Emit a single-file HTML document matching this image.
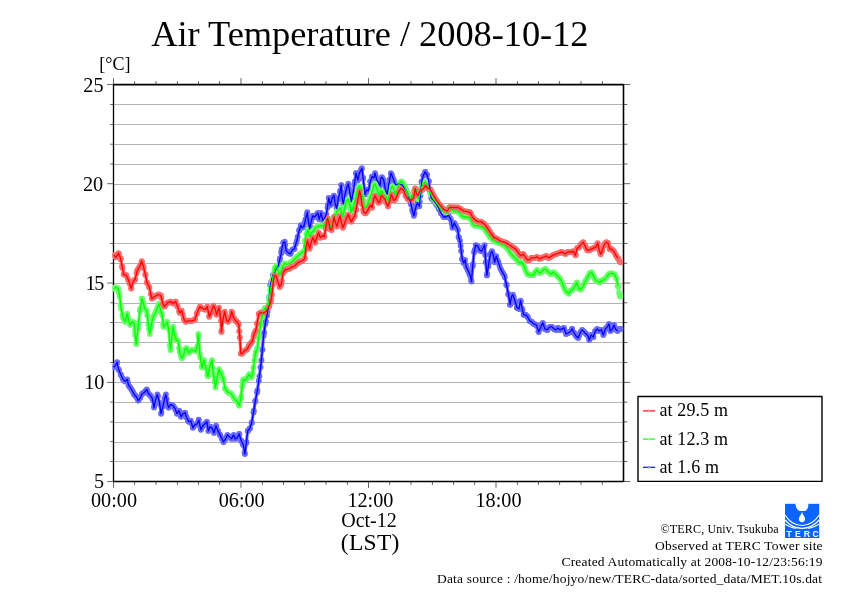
<!DOCTYPE html>
<html><head><meta charset="utf-8"><title>Air Temperature</title>
<style>
html,body{margin:0;padding:0;background:#fff;}
body{width:842px;height:595px;overflow:hidden;position:relative;font-family:"Liberation Serif",serif;}
svg{position:absolute;left:0;top:0;display:block;will-change:transform;opacity:0.9999}
text{font-family:"Liberation Serif",serif;fill:#000}
.lg text{font-size:18px}
.ft text{font-size:13.5px}
.lgo text{font-family:"Liberation Sans",sans-serif;font-weight:bold;font-size:8.6px;fill:#fff}
</style></head><body>
<svg width="842" height="595" viewBox="0 0 842 595">
<rect width="842" height="595" fill="#fff"/>

<text x="151.3" y="46" font-size="36.4" textLength="437.2" lengthAdjust="spacing">Air Temperature / 2008-10-12</text>
<text x="99.3" y="70" font-size="18">[°C]</text>
<g fill="#b4b4b4">
<rect x="113.5" y="104" width="510.0" height="1"/>
<rect x="113.5" y="124" width="510.0" height="1"/>
<rect x="113.5" y="144" width="510.0" height="1"/>
<rect x="113.5" y="164" width="510.0" height="1"/>
<rect x="113.5" y="184" width="510.0" height="1"/>
<rect x="113.5" y="203" width="510.0" height="1"/>
<rect x="113.5" y="223" width="510.0" height="1"/>
<rect x="113.5" y="243" width="510.0" height="1"/>
<rect x="113.5" y="263" width="510.0" height="1"/>
<rect x="113.5" y="283" width="510.0" height="1"/>
<rect x="113.5" y="303" width="510.0" height="1"/>
<rect x="113.5" y="322" width="510.0" height="1"/>
<rect x="113.5" y="342" width="510.0" height="1"/>
<rect x="113.5" y="362" width="510.0" height="1"/>
<rect x="113.5" y="382" width="510.0" height="1"/>
<rect x="113.5" y="402" width="510.0" height="1"/>
<rect x="113.5" y="422" width="510.0" height="1"/>
<rect x="113.5" y="442" width="510.0" height="1"/>
<rect x="113.5" y="461" width="510.0" height="1"/>
</g>
<g stroke="#000" fill="none">
<line x1="113.5" x2="113.5" y1="84.1" y2="481.9" stroke-width="1.3"/>
<line x1="623.5" x2="623.5" y1="84.1" y2="481.9" stroke-width="1.6"/>
<line x1="113.5" x2="623.5" y1="84.6" y2="84.6" stroke-width="1.6"/>
<line x1="113.5" x2="623.5" y1="481.4" y2="481.4" stroke-width="1.5"/>
</g><g fill="#000">
<rect x="113.20" y="481.4" width="0.6" height="6.5"/>
<rect x="113.20" y="78.1" width="0.6" height="6.5"/>
<rect x="134.45" y="481.4" width="0.6" height="3.5"/>
<rect x="134.45" y="81.1" width="0.6" height="3.5"/>
<rect x="155.70" y="481.4" width="0.6" height="3.5"/>
<rect x="155.70" y="81.1" width="0.6" height="3.5"/>
<rect x="176.95" y="481.4" width="0.6" height="3.5"/>
<rect x="176.95" y="81.1" width="0.6" height="3.5"/>
<rect x="198.20" y="481.4" width="0.6" height="3.5"/>
<rect x="198.20" y="81.1" width="0.6" height="3.5"/>
<rect x="219.45" y="481.4" width="0.6" height="3.5"/>
<rect x="219.45" y="81.1" width="0.6" height="3.5"/>
<rect x="240.70" y="481.4" width="0.6" height="6.5"/>
<rect x="240.70" y="78.1" width="0.6" height="6.5"/>
<rect x="261.95" y="481.4" width="0.6" height="3.5"/>
<rect x="261.95" y="81.1" width="0.6" height="3.5"/>
<rect x="283.20" y="481.4" width="0.6" height="3.5"/>
<rect x="283.20" y="81.1" width="0.6" height="3.5"/>
<rect x="304.45" y="481.4" width="0.6" height="3.5"/>
<rect x="304.45" y="81.1" width="0.6" height="3.5"/>
<rect x="325.70" y="481.4" width="0.6" height="3.5"/>
<rect x="325.70" y="81.1" width="0.6" height="3.5"/>
<rect x="346.95" y="481.4" width="0.6" height="3.5"/>
<rect x="346.95" y="81.1" width="0.6" height="3.5"/>
<rect x="368.20" y="481.4" width="0.6" height="6.5"/>
<rect x="368.20" y="78.1" width="0.6" height="6.5"/>
<rect x="389.45" y="481.4" width="0.6" height="3.5"/>
<rect x="389.45" y="81.1" width="0.6" height="3.5"/>
<rect x="410.70" y="481.4" width="0.6" height="3.5"/>
<rect x="410.70" y="81.1" width="0.6" height="3.5"/>
<rect x="431.95" y="481.4" width="0.6" height="3.5"/>
<rect x="431.95" y="81.1" width="0.6" height="3.5"/>
<rect x="453.20" y="481.4" width="0.6" height="3.5"/>
<rect x="453.20" y="81.1" width="0.6" height="3.5"/>
<rect x="474.45" y="481.4" width="0.6" height="3.5"/>
<rect x="474.45" y="81.1" width="0.6" height="3.5"/>
<rect x="495.70" y="481.4" width="0.6" height="6.5"/>
<rect x="495.70" y="78.1" width="0.6" height="6.5"/>
<rect x="516.95" y="481.4" width="0.6" height="3.5"/>
<rect x="516.95" y="81.1" width="0.6" height="3.5"/>
<rect x="538.20" y="481.4" width="0.6" height="3.5"/>
<rect x="538.20" y="81.1" width="0.6" height="3.5"/>
<rect x="559.45" y="481.4" width="0.6" height="3.5"/>
<rect x="559.45" y="81.1" width="0.6" height="3.5"/>
<rect x="580.70" y="481.4" width="0.6" height="3.5"/>
<rect x="580.70" y="81.1" width="0.6" height="3.5"/>
<rect x="601.95" y="481.4" width="0.6" height="3.5"/>
<rect x="601.95" y="81.1" width="0.6" height="3.5"/>
<rect x="107.2" y="84.30" width="6.3" height="0.6"/>
<rect x="623.5" y="84.30" width="6.8" height="0.6"/>
<rect x="110.2" y="104.14" width="3.3" height="0.6"/>
<rect x="623.5" y="104.14" width="3.8" height="0.6"/>
<rect x="110.2" y="123.98" width="3.3" height="0.6"/>
<rect x="623.5" y="123.98" width="3.8" height="0.6"/>
<rect x="110.2" y="143.83" width="3.3" height="0.6"/>
<rect x="623.5" y="143.83" width="3.8" height="0.6"/>
<rect x="110.2" y="163.67" width="3.3" height="0.6"/>
<rect x="623.5" y="163.67" width="3.8" height="0.6"/>
<rect x="107.2" y="183.51" width="6.3" height="0.6"/>
<rect x="623.5" y="183.51" width="6.8" height="0.6"/>
<rect x="110.2" y="203.36" width="3.3" height="0.6"/>
<rect x="623.5" y="203.36" width="3.8" height="0.6"/>
<rect x="110.2" y="223.20" width="3.3" height="0.6"/>
<rect x="623.5" y="223.20" width="3.8" height="0.6"/>
<rect x="110.2" y="243.04" width="3.3" height="0.6"/>
<rect x="623.5" y="243.04" width="3.8" height="0.6"/>
<rect x="110.2" y="262.88" width="3.3" height="0.6"/>
<rect x="623.5" y="262.88" width="3.8" height="0.6"/>
<rect x="107.2" y="282.72" width="6.3" height="0.6"/>
<rect x="623.5" y="282.72" width="6.8" height="0.6"/>
<rect x="110.2" y="302.57" width="3.3" height="0.6"/>
<rect x="623.5" y="302.57" width="3.8" height="0.6"/>
<rect x="110.2" y="322.41" width="3.3" height="0.6"/>
<rect x="623.5" y="322.41" width="3.8" height="0.6"/>
<rect x="110.2" y="342.25" width="3.3" height="0.6"/>
<rect x="623.5" y="342.25" width="3.8" height="0.6"/>
<rect x="110.2" y="362.09" width="3.3" height="0.6"/>
<rect x="623.5" y="362.09" width="3.8" height="0.6"/>
<rect x="107.2" y="381.94" width="6.3" height="0.6"/>
<rect x="623.5" y="381.94" width="6.8" height="0.6"/>
<rect x="110.2" y="401.78" width="3.3" height="0.6"/>
<rect x="623.5" y="401.78" width="3.8" height="0.6"/>
<rect x="110.2" y="421.62" width="3.3" height="0.6"/>
<rect x="623.5" y="421.62" width="3.8" height="0.6"/>
<rect x="110.2" y="441.46" width="3.3" height="0.6"/>
<rect x="623.5" y="441.46" width="3.8" height="0.6"/>
<rect x="110.2" y="461.31" width="3.3" height="0.6"/>
<rect x="623.5" y="461.31" width="3.8" height="0.6"/>
<rect x="107.2" y="481.15" width="6.3" height="0.6"/>
<rect x="623.5" y="481.15" width="6.8" height="0.6"/>
</g>
<clipPath id="cp"><rect x="112.7" y="84.6" width="510.8" height="396.9"/></clipPath><g clip-path="url(#cp)">
<marker id="mb" markerWidth="8" markerHeight="8" refX="4" refY="4" markerUnits="userSpaceOnUse"><circle cx="4" cy="4" r="2.95" fill="#6a6aff"/></marker>
<marker id="mg" markerWidth="8" markerHeight="8" refX="4" refY="4" markerUnits="userSpaceOnUse"><circle cx="4" cy="4" r="2.95" fill="#6aff6a"/></marker>
<marker id="mr" markerWidth="8" markerHeight="8" refX="4" refY="4" markerUnits="userSpaceOnUse"><circle cx="4" cy="4" r="2.95" fill="#ff6a6a"/></marker>
<polyline points="113.6,367.3 113.6,367.3 115.4,365.5 115.7,365.2 117.1,362.2 117.2,362.7 118.5,369.3 118.9,370.3 120.7,374.4 121.1,375.3 122.5,378.1 123.1,379.4 124.3,380.5 125.1,381.4 126.0,380.5 127.2,379.4 127.8,382.1 128.6,385.4 129.6,386.7 130.2,387.4 131.3,389.2 132.2,390.5 133.1,392.3 134.2,394.5 134.9,395.2 136.2,396.5 136.6,397.3 138.3,400.6 138.4,400.3 140.2,397.7 140.3,397.5 142.0,394.2 142.3,393.5 143.7,392.8 144.3,392.5 145.5,391.0 146.7,389.5 147.3,390.8 148.4,393.5 149.0,394.2 150.4,395.5 150.8,396.2 152.4,398.6 152.6,399.5 154.0,407.6 154.3,406.0 155.4,400.6 156.1,398.5 157.4,394.5 157.9,396.3 159.5,402.6 159.7,403.9 161.1,413.7 161.4,412.4 162.9,406.6 163.2,405.1 164.5,398.6 165.0,397.3 165.9,394.5 166.7,399.1 167.5,403.6 168.5,407.4 168.6,407.6 170.3,405.1 170.6,404.6 172.0,405.2 173.0,405.6 173.8,406.8 175.0,408.6 175.6,410.1 177.0,413.7 177.4,413.2 179.0,410.7 179.1,410.9 180.9,416.2 181.1,416.7 182.7,414.3 183.1,413.7 184.4,413.0 185.1,412.7 186.2,416.1 186.7,417.7 188.0,420.2 188.7,421.8 189.7,421.3 190.8,420.8 191.5,423.4 192.8,427.8 193.3,427.1 194.8,424.8 195.1,424.7 196.8,424.0 197.2,423.8 198.6,420.4 198.8,419.8 200.4,427.4 200.9,429.8 202.1,427.3 202.9,425.8 203.9,424.8 204.9,423.8 205.7,423.0 206.9,421.8 207.4,425.2 208.3,430.9 209.2,428.6 209.9,426.8 211.0,427.3 212.0,427.8 212.8,429.8 214.0,432.9 214.5,431.0 216.0,425.8 216.3,426.5 218.0,430.9 218.1,431.0 219.8,434.5 220.0,434.9 221.6,438.0 222.1,438.9 223.4,441.8 223.5,442.0 225.1,439.4 225.5,438.9 226.9,436.1 227.5,434.9 228.7,436.1 229.5,436.9 230.5,437.8 231.5,438.9 232.2,437.6 233.6,434.9 234.0,436.0 235.2,438.9 235.8,438.6 237.2,437.9 237.5,437.2 239.2,433.9 239.3,434.2 241.1,440.4 241.2,441.0 242.8,444.2 243.3,445.0 244.6,452.6 244.9,454.1 246.3,443.0 246.4,442.1 247.7,430.9 248.2,430.4 249.7,428.8 249.9,428.2 251.7,422.9 251.7,422.8 253.5,412.4 253.8,410.7 255.2,401.4 255.4,400.6 257.0,392.4 257.4,390.5 258.8,380.8 259.4,376.3 260.5,367.2 261.4,360.2 262.3,349.8 262.3,349.4 263.6,335.7 264.1,332.4 265.3,323.9 265.9,321.1 267.0,315.5 267.6,311.6 268.7,305.5 269.4,296.6 270.3,285.3 271.2,282.0 272.9,275.2 272.9,275.1 274.7,271.5 275.4,270.2 276.5,268.7 277.9,266.8 278.2,265.4 279.6,260.1 280.0,258.3 281.3,253.4 281.3,250.9 281.8,248.9 283.3,242.8 283.6,242.6 284.7,241.8 285.3,245.1 286.3,250.9 287.1,251.6 288.4,252.9 288.9,253.1 290.4,253.9 290.6,253.4 292.4,249.8 292.4,249.8 294.2,249.0 294.4,248.8 295.9,243.7 296.8,240.8 297.7,236.8 299.1,230.7 299.5,229.4 300.8,225.3 301.3,226.3 302.0,227.7 303.0,227.0 303.8,226.5 304.8,222.3 305.5,219.4 306.6,215.3 307.3,212.3 308.3,220.4 308.5,221.8 309.7,228.9 310.1,226.8 311.1,221.8 311.9,218.8 312.7,215.8 313.6,216.5 314.4,217.0 315.4,216.0 315.6,215.8 317.2,213.7 317.8,212.9 319.0,218.3 319.2,219.4 320.7,213.8 321.0,212.9 322.5,219.4 322.8,220.6 324.3,218.6 324.5,218.2 326.0,215.2 326.3,214.6 327.5,207.5 327.8,205.1 328.7,198.0 329.6,201.5 330.5,205.1 331.3,201.7 332.3,198.0 333.1,196.9 334.0,195.6 334.9,201.6 335.2,203.9 336.7,208.3 336.8,208.7 338.2,199.2 338.4,198.3 340.0,192.1 340.2,190.8 341.2,184.9 342.0,194.5 342.4,199.2 343.5,203.9 343.7,202.6 344.7,195.6 345.5,192.5 346.5,188.5 347.3,186.5 348.3,183.8 349.0,188.3 349.5,190.9 350.8,198.9 351.3,201.6 352.6,195.4 353.0,193.3 354.4,184.5 354.8,181.4 356.0,173.1 356.1,173.5 357.8,180.2 357.9,179.7 359.3,173.1 359.7,172.5 360.8,170.7 361.4,169.3 361.9,168.3 363.1,177.8 363.2,178.5 364.9,194.4 365.0,194.3 366.7,189.7 366.7,189.7 368.5,190.9 368.5,190.7 370.3,181.4 370.3,181.3 372.0,176.6 372.1,176.6 373.8,177.8 373.8,177.8 375.0,173.1 375.6,175.4 376.8,180.2 377.4,181.0 378.6,182.6 379.1,183.7 380.0,185.5 380.7,179.0 380.9,178.7 381.9,177.2 382.7,178.6 383.7,180.2 384.4,184.4 385.4,189.7 386.2,191.8 387.2,194.4 388.0,189.9 389.0,183.8 389.8,179.2 390.8,173.1 391.5,174.5 392.0,175.4 393.3,179.0 393.8,180.2 395.1,183.7 395.5,184.9 396.8,184.4 398.5,183.8 398.6,183.8 400.4,184.4 402.1,184.9 402.1,185.0 403.9,187.4 405.6,189.7 405.7,189.8 407.5,193.3 408.0,194.4 409.2,198.1 410.4,201.6 411.0,204.4 412.2,209.9 412.8,211.9 413.9,215.8 414.5,213.1 415.7,207.5 416.3,206.0 417.5,202.8 418.1,203.9 419.3,206.3 419.8,201.3 420.5,195.6 421.6,182.0 421.7,181.4 423.4,175.6 423.4,175.4 425.2,172.0 425.2,171.9 426.9,174.7 427.0,174.8 428.7,181.0 428.8,181.4 430.0,189.7 430.5,193.1 431.2,198.0 432.2,199.1 434.0,200.8 434.1,201.0 435.8,203.4 436.5,204.5 437.5,206.3 438.9,208.7 439.3,209.6 441.1,213.1 441.3,213.4 442.9,215.8 443.6,217.0 444.6,217.0 446.0,217.0 446.4,216.7 448.2,215.4 448.4,215.2 449.9,217.9 450.8,219.4 451.7,223.8 452.5,227.7 453.5,225.2 454.3,222.9 455.2,224.8 456.1,226.5 457.0,228.3 457.9,230.0 458.6,236.7 458.8,237.4 460.0,240.8 460.6,245.7 461.2,250.9 462.2,258.9 462.3,259.3 463.6,263.0 464.1,261.9 465.0,259.9 465.9,264.9 466.2,267.0 467.6,269.8 468.2,271.0 469.4,273.9 470.3,276.1 471.2,280.0 471.5,281.5 472.7,266.3 472.9,264.1 474.1,252.2 474.7,249.7 475.7,245.1 476.5,245.5 477.8,246.2 478.3,247.2 479.6,250.2 480.0,250.4 481.6,251.2 481.8,250.8 483.2,248.2 483.6,247.4 484.6,245.1 485.3,255.1 485.8,262.3 486.9,275.4 487.1,273.8 488.3,266.3 488.9,262.7 490.3,254.2 490.6,253.6 491.9,251.2 492.4,252.7 493.3,255.2 494.2,259.6 494.7,262.3 496.0,257.7 496.3,256.2 497.7,260.4 498.4,262.3 499.5,265.7 500.4,268.4 501.3,270.1 502.4,272.4 503.0,273.4 504.4,275.4 504.8,277.2 506.4,284.5 506.6,285.2 508.3,294.0 508.5,294.6 510.1,304.7 510.1,304.5 511.5,296.6 511.9,296.1 512.9,294.6 513.7,296.9 514.9,300.7 515.4,302.4 516.9,307.7 517.2,307.9 519.0,308.7 519.0,308.7 520.6,300.7 520.7,301.5 522.2,308.7 522.5,310.1 523.6,314.8 524.3,314.8 525.6,314.8 526.0,315.2 527.6,316.8 527.8,317.2 529.6,320.7 529.7,320.9 531.4,321.7 531.7,321.9 533.1,323.3 533.7,323.9 534.9,324.3 536.3,324.9 536.7,325.9 538.4,331.1 538.7,332.0 540.2,328.3 540.8,326.9 542.0,324.5 542.8,322.9 543.7,325.8 544.8,328.9 545.5,329.2 547.2,329.9 547.3,329.9 549.1,327.8 549.8,326.9 550.8,326.9 551.9,326.9 552.6,327.6 553.9,328.9 554.4,329.2 555.9,329.9 556.1,329.7 557.9,327.9 557.9,327.9 559.7,329.7 559.9,329.9 561.4,329.2 562.0,328.9 563.2,328.3 564.0,327.9 565.0,330.9 566.0,334.0 566.8,333.6 568.0,333.0 568.5,332.7 570.0,332.0 570.3,331.6 572.1,328.9 572.1,329.0 573.8,332.5 574.1,333.0 575.6,335.3 576.1,336.0 577.4,337.3 578.1,338.0 579.1,335.4 580.1,333.0 580.9,331.8 582.1,329.9 582.7,330.5 584.2,332.0 584.5,332.2 586.2,334.0 586.2,334.0 588.0,335.8 588.2,336.0 589.2,340.0 589.8,338.7 591.2,335.0 591.5,335.3 593.3,337.0 593.3,336.9 595.1,331.5 595.3,331.0 596.8,329.4 597.3,328.9 598.6,330.3 599.3,331.0 600.4,330.4 601.3,329.9 602.2,332.0 603.3,335.0 603.9,333.3 605.4,328.9 605.7,328.6 607.4,326.9 607.5,326.8 609.0,323.9 609.2,325.0 610.4,331.0 611.0,330.4 612.4,328.9 612.8,328.1 614.0,324.9 614.5,326.3 615.5,328.9 616.3,329.8 617.5,331.0 618.1,330.3 619.5,328.9 619.9,328.9 620.9,328.9" fill="none" stroke="none" marker-start="url(#mb)" marker-mid="url(#mb)" marker-end="url(#mb)"/>
<path d="M113.6,367.3 L115.7,365.2 L117.1,362.2 L118.5,369.3 L121.1,375.3 L123.1,379.4 L125.1,381.4 L127.2,379.4 L128.6,385.4 L130.2,387.4 L132.2,390.5 L134.2,394.5 L136.2,396.5 L138.3,400.6 L140.3,397.5 L142.3,393.5 L144.3,392.5 L146.7,389.5 L148.4,393.5 L150.4,395.5 L152.4,398.6 L154.0,407.6 L155.4,400.6 L157.4,394.5 L159.5,402.6 L161.1,413.7 L162.9,406.6 L164.5,398.6 L165.9,394.5 L167.5,403.6 L168.6,407.6 L170.6,404.6 L173.0,405.6 L175.0,408.6 L177.0,413.7 L179.0,410.7 L181.1,416.7 L183.1,413.7 L185.1,412.7 L186.7,417.7 L188.7,421.8 L190.8,420.8 L192.8,427.8 L194.8,424.8 L197.2,423.8 L198.8,419.8 L200.9,429.8 L202.9,425.8 L204.9,423.8 L206.9,421.8 L208.3,430.9 L209.9,426.8 L212.0,427.8 L214.0,432.9 L216.0,425.8 L218.0,430.9 L220.0,434.9 L222.1,438.9 L223.5,442.0 L225.5,438.9 L227.5,434.9 L229.5,436.9 L231.5,438.9 L233.6,434.9 L235.2,438.9 L237.2,437.9 L239.2,433.9 L241.2,441.0 L243.3,445.0 L244.9,454.1 L246.3,443.0 L247.7,430.9 L249.7,428.8 L251.7,422.8 L253.8,410.7 L255.4,400.6 L257.4,390.5 L259.4,376.3 L261.4,360.2 L262.3,349.8 L263.6,335.7 L265.3,323.9 L267.0,315.5 L268.7,305.5 L270.3,285.3 L272.9,275.2 L275.4,270.2 L277.9,266.8 L279.6,260.1 L281.3,253.4 L281.3,250.9 L283.3,242.8 L284.7,241.8 L286.3,250.9 L288.4,252.9 L290.4,253.9 L292.4,249.8 L294.4,248.8 L296.8,240.8 L299.1,230.7 L300.8,225.3 L302.0,227.7 L303.8,226.5 L305.5,219.4 L307.3,212.3 L308.5,221.8 L309.7,228.9 L311.1,221.8 L312.7,215.8 L314.4,217.0 L315.6,215.8 L317.8,212.9 L319.2,219.4 L321.0,212.9 L322.8,220.6 L324.5,218.2 L326.3,214.6 L327.5,207.5 L328.7,198.0 L330.5,205.1 L332.3,198.0 L334.0,195.6 L335.2,203.9 L336.8,208.7 L338.2,199.2 L340.0,192.1 L341.2,184.9 L342.4,199.2 L343.5,203.9 L344.7,195.6 L346.5,188.5 L348.3,183.8 L349.5,190.9 L351.3,201.6 L353.0,193.3 L354.8,181.4 L356.0,173.1 L357.8,180.2 L359.3,173.1 L360.8,170.7 L361.9,168.3 L363.1,177.8 L364.9,194.4 L366.7,189.7 L368.5,190.9 L370.3,181.4 L372.0,176.6 L373.8,177.8 L375.0,173.1 L376.8,180.2 L378.6,182.6 L380.0,185.5 L380.7,179.0 L381.9,177.2 L383.7,180.2 L385.4,189.7 L387.2,194.4 L389.0,183.8 L390.8,173.1 L392.0,175.4 L393.8,180.2 L395.5,184.9 L398.5,183.8 L402.1,184.9 L405.6,189.7 L408.0,194.4 L410.4,201.6 L412.2,209.9 L413.9,215.8 L415.7,207.5 L417.5,202.8 L419.3,206.3 L420.5,195.6 L421.7,181.4 L423.4,175.4 L425.2,171.9 L427.0,174.8 L428.8,181.4 L430.0,189.7 L431.2,198.0 L434.1,201.0 L436.5,204.5 L438.9,208.7 L441.3,213.4 L443.6,217.0 L446.0,217.0 L448.4,215.2 L450.8,219.4 L452.5,227.7 L454.3,222.9 L456.1,226.5 L457.9,230.0 L458.6,236.7 L460.0,240.8 L461.2,250.9 L462.2,258.9 L463.6,263.0 L465.0,259.9 L466.2,267.0 L468.2,271.0 L470.3,276.1 L471.5,281.5 L472.7,266.3 L474.1,252.2 L475.7,245.1 L477.8,246.2 L479.6,250.2 L481.6,251.2 L483.2,248.2 L484.6,245.1 L485.8,262.3 L486.9,275.4 L488.3,266.3 L490.3,254.2 L491.9,251.2 L493.3,255.2 L494.7,262.3 L496.3,256.2 L498.4,262.3 L500.4,268.4 L502.4,272.4 L504.4,275.4 L506.4,284.5 L508.5,294.6 L510.1,304.7 L511.5,296.6 L512.9,294.6 L514.9,300.7 L516.9,307.7 L519.0,308.7 L520.6,300.7 L522.2,308.7 L523.6,314.8 L525.6,314.8 L527.6,316.8 L529.7,320.9 L531.7,321.9 L533.7,323.9 L536.3,324.9 L538.7,332.0 L540.8,326.9 L542.8,322.9 L544.8,328.9 L547.2,329.9 L549.8,326.9 L551.9,326.9 L553.9,328.9 L555.9,329.9 L557.9,327.9 L559.9,329.9 L562.0,328.9 L564.0,327.9 L566.0,334.0 L568.0,333.0 L570.0,332.0 L572.1,328.9 L574.1,333.0 L576.1,336.0 L578.1,338.0 L580.1,333.0 L582.1,329.9 L584.2,332.0 L586.2,334.0 L588.2,336.0 L589.2,340.0 L591.2,335.0 L593.3,337.0 L595.3,331.0 L597.3,328.9 L599.3,331.0 L601.3,329.9 L603.3,335.0 L605.4,328.9 L607.4,326.9 L609.0,323.9 L610.4,331.0 L612.4,328.9 L614.0,324.9 L615.5,328.9 L617.5,331.0 L619.5,328.9 L620.9,328.9" fill="none" stroke="#6a6aff" stroke-width="3.2" stroke-linejoin="round" stroke-linecap="round"/>
<polyline points="113.6,288.5 113.6,288.5 115.4,287.7 116.1,287.4 117.2,288.0 118.1,288.5 118.9,292.8 119.7,296.5 120.7,305.3 121.1,308.6 122.5,314.9 123.1,317.7 124.3,320.0 125.1,321.8 126.0,318.2 127.2,313.7 127.8,316.9 128.6,320.8 129.6,323.2 130.2,324.8 131.3,323.1 132.2,321.8 133.1,322.2 134.2,322.8 134.9,330.5 135.2,334.9 136.2,344.0 136.6,340.3 137.9,328.8 138.4,323.9 139.9,310.7 140.2,308.8 141.9,298.6 142.0,298.7 143.3,302.6 143.7,304.3 144.7,308.6 145.5,309.4 146.7,310.7 147.3,315.2 148.4,324.8 149.0,329.1 149.8,333.9 150.8,328.1 151.4,324.8 152.6,318.9 152.8,317.7 154.3,314.8 155.4,312.7 156.1,311.0 157.4,307.6 157.9,306.5 159.1,303.6 159.7,306.1 160.5,309.7 161.4,312.6 162.1,314.7 163.2,324.2 163.5,326.8 165.0,325.4 165.5,324.8 166.7,322.5 167.1,321.8 168.5,328.6 168.6,328.8 170.0,345.0 170.3,347.6 170.6,350.0 172.0,334.9 172.0,334.4 173.0,326.8 173.8,330.9 174.6,334.9 175.6,337.9 176.2,339.9 177.4,340.5 178.2,341.0 179.1,347.9 179.7,352.1 180.9,355.8 181.7,358.2 182.7,356.7 183.7,355.1 184.4,352.0 185.1,349.1 186.2,348.4 186.7,348.1 188.0,351.2 188.7,353.1 189.7,351.6 190.8,350.1 191.5,350.1 193.2,350.1 193.3,350.1 195.1,350.8 195.8,351.1 196.8,347.9 197.4,346.1 198.4,333.9 198.6,336.3 199.8,354.1 200.4,357.5 201.9,367.3 202.1,366.3 203.9,360.2 203.9,360.3 205.7,367.4 205.9,368.3 207.4,374.4 207.9,376.3 209.2,369.9 209.9,366.2 211.0,363.1 212.0,360.2 212.8,368.1 213.4,374.3 214.5,381.8 215.4,387.4 216.3,382.4 217.0,378.4 218.1,373.6 219.0,369.3 219.8,370.9 221.0,373.3 221.6,374.7 223.1,378.4 223.4,379.9 225.1,388.5 225.1,388.5 226.9,390.9 228.1,392.5 228.7,392.7 230.5,393.3 231.1,393.5 232.2,395.3 234.0,398.3 234.2,398.6 235.8,400.1 237.2,401.6 237.5,402.3 239.2,405.6 239.3,405.2 240.8,398.6 241.1,396.5 242.2,386.4 242.8,382.2 243.3,379.4 244.6,380.1 245.3,380.4 246.4,378.7 247.3,377.4 248.2,376.1 249.3,374.3 249.9,375.2 251.3,377.4 251.7,376.3 252.7,373.3 253.5,367.5 254.4,360.2 255.2,355.2 255.8,352.1 257.0,349.0 257.4,348.1 258.6,337.4 258.8,336.0 260.3,325.6 260.5,324.2 261.9,317.2 262.3,315.7 263.6,310.5 264.1,309.6 265.0,308.0 265.9,309.9 266.1,310.5 267.6,307.5 267.8,307.1 269.0,300.4 269.4,297.4 270.3,290.3 271.2,286.2 272.0,281.9 272.9,277.3 273.7,273.5 274.7,269.1 275.0,267.6 276.2,266.0 276.5,266.6 277.9,270.2 278.2,271.2 279.6,275.2 280.0,274.3 281.3,271.8 281.8,270.0 282.9,266.0 283.6,265.0 284.6,263.4 285.3,263.7 287.1,264.3 287.1,264.3 288.9,263.7 289.7,263.4 290.6,262.8 292.2,261.8 292.4,261.5 294.2,259.8 294.7,259.2 295.9,258.0 297.2,256.7 297.7,256.2 299.5,254.5 299.7,254.2 301.3,253.2 302.3,252.5 303.0,252.0 304.8,250.8 304.8,250.5 304.9,240.8 306.5,233.7 306.6,233.6 307.9,229.7 308.3,231.4 309.6,236.7 310.1,235.6 311.6,232.7 311.9,232.4 313.6,230.7 313.6,230.6 315.4,228.0 315.6,227.7 317.2,226.9 318.0,226.5 319.0,226.1 320.7,225.4 321.0,225.3 322.5,226.1 323.3,226.5 324.3,225.3 325.1,224.1 326.0,221.4 326.3,220.6 327.8,218.6 328.1,218.2 329.3,221.8 329.6,223.2 330.5,227.7 331.3,226.0 332.3,224.1 333.1,221.8 334.0,219.4 334.9,216.8 335.2,215.8 336.7,212.0 337.0,211.1 338.4,209.7 338.8,209.3 340.2,208.4 340.6,208.1 341.8,213.4 342.0,214.1 342.9,217.0 343.7,212.8 344.7,207.5 345.5,204.4 346.5,200.4 347.3,199.9 348.3,199.2 349.0,202.2 350.1,206.3 350.8,210.0 351.3,212.3 352.6,208.7 353.0,207.5 354.4,203.1 354.8,201.6 356.1,196.4 356.6,194.4 357.8,188.5 357.9,188.3 359.3,186.1 359.7,186.4 360.8,187.3 361.4,191.4 361.9,194.4 363.2,200.3 363.7,202.8 364.9,207.5 365.0,207.5 366.7,207.5 366.7,207.4 368.5,201.6 368.5,201.5 370.3,196.8 370.3,196.8 372.0,192.1 372.1,192.0 373.8,185.5 373.8,185.5 375.0,183.8 375.6,185.3 376.8,188.5 377.4,190.4 378.6,194.4 379.1,194.9 380.0,195.6 380.7,190.9 380.9,191.0 382.5,192.1 382.7,192.5 384.3,195.6 384.4,195.8 386.2,197.6 386.6,198.0 387.8,201.6 388.0,200.8 389.6,193.3 389.8,192.7 391.4,187.3 391.5,187.2 392.6,186.1 393.3,188.1 394.3,190.9 395.1,192.8 396.1,195.6 396.8,192.3 397.9,187.3 398.6,185.5 399.7,182.6 400.4,182.1 401.5,181.4 402.1,182.3 403.3,183.8 403.9,185.1 405.0,187.3 405.7,189.0 406.8,192.1 407.5,193.3 408.6,195.6 409.2,196.6 411.0,199.2 411.0,199.2 412.8,196.8 412.8,196.8 413.9,190.9 414.5,190.1 415.7,188.5 416.3,190.4 417.5,194.4 418.1,196.7 418.7,199.2 419.8,193.4 419.9,193.3 421.6,187.5 421.7,187.3 423.4,183.9 423.4,183.8 425.2,182.0 425.2,182.0 426.9,184.8 427.0,184.9 428.7,188.3 428.8,188.5 430.5,193.0 430.6,193.3 432.2,196.6 432.9,198.0 434.0,199.4 435.8,201.8 436.5,202.8 437.5,204.1 439.3,206.5 440.1,207.5 441.1,208.5 442.9,210.3 443.6,211.1 444.6,211.4 446.4,212.0 447.2,212.3 448.2,209.7 449.0,207.5 449.9,207.5 450.8,207.5 451.7,208.9 453.1,211.1 453.5,211.1 455.2,211.1 456.7,211.1 457.0,211.2 458.8,212.1 459.1,212.3 460.6,214.1 461.4,215.2 462.3,215.9 463.8,217.0 464.1,217.0 465.9,217.0 467.4,217.0 467.6,217.1 469.4,217.9 470.0,218.2 470.7,218.6 471.2,219.8 472.7,223.6 472.9,223.9 474.7,225.6 474.7,225.6 476.5,225.6 477.7,225.6 478.3,225.8 480.0,226.4 480.8,226.6 481.8,227.0 483.6,227.6 483.8,227.6 485.3,230.0 485.8,230.7 487.1,232.6 487.8,233.7 488.9,235.3 489.8,236.7 490.6,237.5 492.4,239.3 492.9,239.8 494.2,240.6 495.9,241.8 496.0,241.8 497.7,242.4 498.9,242.8 499.5,243.0 501.3,243.6 502.0,243.8 503.0,244.5 504.8,245.7 505.0,245.8 506.6,247.4 508.0,248.8 508.3,249.4 510.1,252.3 511.0,253.9 511.9,254.7 513.7,256.5 514.1,256.9 515.4,258.3 517.1,259.9 517.2,260.1 519.0,262.7 519.1,263.0 520.7,262.2 521.1,262.0 522.5,263.3 523.2,264.0 524.3,266.8 525.2,269.0 526.0,271.2 527.2,274.1 527.8,274.3 529.6,274.9 530.2,275.1 531.4,275.1 533.1,275.1 533.3,275.1 534.9,272.6 535.3,272.1 536.7,270.7 537.3,270.0 538.4,271.7 539.3,273.1 540.2,272.6 541.3,272.1 542.0,271.4 543.3,270.0 543.7,269.8 545.4,269.0 545.5,269.2 547.3,270.9 547.4,271.0 549.1,272.7 549.4,273.1 550.8,273.8 551.4,274.1 552.6,272.9 553.4,272.1 554.4,273.0 555.5,274.1 556.1,274.7 557.5,276.1 557.9,276.5 559.7,278.2 559.9,278.5 561.4,281.5 562.0,282.5 563.2,285.6 564.0,287.5 565.0,289.6 566.0,291.6 566.8,292.2 568.5,293.5 568.6,293.6 570.3,291.1 570.6,290.6 572.1,289.9 572.7,289.6 573.8,287.8 574.7,286.5 575.6,284.7 576.7,282.5 577.4,284.5 578.7,288.6 579.1,288.8 580.7,289.6 580.9,289.3 582.7,286.6 582.8,286.5 584.5,283.0 585.2,281.5 586.2,279.7 587.6,277.4 588.0,276.7 589.6,273.4 589.8,273.3 591.5,272.5 591.6,272.4 593.3,275.7 593.7,276.4 595.1,279.3 595.7,280.5 596.8,280.9 598.3,281.5 598.6,281.7 599.7,282.5 600.4,281.8 601.7,280.5 602.2,280.3 603.9,279.6 604.4,279.5 605.7,278.1 606.4,277.4 607.5,275.8 608.4,274.4 609.2,274.0 610.4,273.4 611.0,273.4 612.4,273.4 612.8,273.6 614.5,274.4 614.5,274.6 616.3,278.1 616.5,278.5 617.9,285.5 618.1,286.7 619.1,292.6 619.9,295.6 620.1,296.6" fill="none" stroke="none" marker-start="url(#mg)" marker-mid="url(#mg)" marker-end="url(#mg)"/>
<path d="M113.6,288.5 L116.1,287.4 L118.1,288.5 L119.7,296.5 L121.1,308.6 L123.1,317.7 L125.1,321.8 L127.2,313.7 L128.6,320.8 L130.2,324.8 L132.2,321.8 L134.2,322.8 L135.2,334.9 L136.2,344.0 L137.9,328.8 L139.9,310.7 L141.9,298.6 L143.3,302.6 L144.7,308.6 L146.7,310.7 L148.4,324.8 L149.8,333.9 L151.4,324.8 L152.8,317.7 L155.4,312.7 L157.4,307.6 L159.1,303.6 L160.5,309.7 L162.1,314.7 L163.5,326.8 L165.5,324.8 L167.1,321.8 L168.6,328.8 L170.0,345.0 L170.6,350.0 L172.0,334.9 L173.0,326.8 L174.6,334.9 L176.2,339.9 L178.2,341.0 L179.7,352.1 L181.7,358.2 L183.7,355.1 L185.1,349.1 L186.7,348.1 L188.7,353.1 L190.8,350.1 L193.2,350.1 L195.8,351.1 L197.4,346.1 L198.4,333.9 L199.8,354.1 L201.9,367.3 L203.9,360.2 L205.9,368.3 L207.9,376.3 L209.9,366.2 L212.0,360.2 L213.4,374.3 L215.4,387.4 L217.0,378.4 L219.0,369.3 L221.0,373.3 L223.1,378.4 L225.1,388.5 L228.1,392.5 L231.1,393.5 L234.2,398.6 L237.2,401.6 L239.2,405.6 L240.8,398.6 L242.2,386.4 L243.3,379.4 L245.3,380.4 L247.3,377.4 L249.3,374.3 L251.3,377.4 L252.7,373.3 L254.4,360.2 L255.8,352.1 L257.4,348.1 L258.6,337.4 L260.3,325.6 L261.9,317.2 L263.6,310.5 L265.0,308.0 L266.1,310.5 L267.8,307.1 L269.0,300.4 L270.3,290.3 L272.0,281.9 L273.7,273.5 L275.0,267.6 L276.2,266.0 L277.9,270.2 L279.6,275.2 L281.3,271.8 L282.9,266.0 L284.6,263.4 L287.1,264.3 L289.7,263.4 L292.2,261.8 L294.7,259.2 L297.2,256.7 L299.7,254.2 L302.3,252.5 L304.8,250.8 L304.9,240.8 L306.5,233.7 L307.9,229.7 L309.6,236.7 L311.6,232.7 L313.6,230.7 L315.6,227.7 L318.0,226.5 L321.0,225.3 L323.3,226.5 L325.1,224.1 L326.3,220.6 L328.1,218.2 L329.3,221.8 L330.5,227.7 L332.3,224.1 L334.0,219.4 L335.2,215.8 L337.0,211.1 L338.8,209.3 L340.6,208.1 L341.8,213.4 L342.9,217.0 L344.7,207.5 L346.5,200.4 L348.3,199.2 L350.1,206.3 L351.3,212.3 L353.0,207.5 L354.8,201.6 L356.6,194.4 L357.8,188.5 L359.3,186.1 L360.8,187.3 L361.9,194.4 L363.7,202.8 L364.9,207.5 L366.7,207.5 L368.5,201.6 L370.3,196.8 L372.0,192.1 L373.8,185.5 L375.0,183.8 L376.8,188.5 L378.6,194.4 L380.0,195.6 L380.7,190.9 L382.5,192.1 L384.3,195.6 L386.6,198.0 L387.8,201.6 L389.6,193.3 L391.4,187.3 L392.6,186.1 L394.3,190.9 L396.1,195.6 L397.9,187.3 L399.7,182.6 L401.5,181.4 L403.3,183.8 L405.0,187.3 L406.8,192.1 L408.6,195.6 L411.0,199.2 L412.8,196.8 L413.9,190.9 L415.7,188.5 L417.5,194.4 L418.7,199.2 L419.9,193.3 L421.7,187.3 L423.4,183.8 L425.2,182.0 L427.0,184.9 L428.8,188.5 L430.6,193.3 L432.9,198.0 L436.5,202.8 L440.1,207.5 L443.6,211.1 L447.2,212.3 L449.0,207.5 L450.8,207.5 L453.1,211.1 L456.7,211.1 L459.1,212.3 L461.4,215.2 L463.8,217.0 L467.4,217.0 L470.0,218.2 L470.7,218.6 L472.7,223.6 L474.7,225.6 L477.7,225.6 L480.8,226.6 L483.8,227.6 L485.8,230.7 L487.8,233.7 L489.8,236.7 L492.9,239.8 L495.9,241.8 L498.9,242.8 L502.0,243.8 L505.0,245.8 L508.0,248.8 L511.0,253.9 L514.1,256.9 L517.1,259.9 L519.1,263.0 L521.1,262.0 L523.2,264.0 L525.2,269.0 L527.2,274.1 L530.2,275.1 L533.3,275.1 L535.3,272.1 L537.3,270.0 L539.3,273.1 L541.3,272.1 L543.3,270.0 L545.4,269.0 L547.4,271.0 L549.4,273.1 L551.4,274.1 L553.4,272.1 L555.5,274.1 L557.5,276.1 L559.9,278.5 L562.0,282.5 L564.0,287.5 L566.0,291.6 L568.6,293.6 L570.6,290.6 L572.7,289.6 L574.7,286.5 L576.7,282.5 L578.7,288.6 L580.7,289.6 L582.8,286.5 L585.2,281.5 L587.6,277.4 L589.6,273.4 L591.6,272.4 L593.7,276.4 L595.7,280.5 L598.3,281.5 L599.7,282.5 L601.7,280.5 L604.4,279.5 L606.4,277.4 L608.4,274.4 L610.4,273.4 L612.4,273.4 L614.5,274.4 L616.5,278.5 L617.9,285.5 L619.1,292.6 L620.1,296.6" fill="none" stroke="#6aff6a" stroke-width="3.2" stroke-linejoin="round" stroke-linecap="round"/>
<polyline points="113.6,255.1 113.6,255.1 115.4,256.6 116.1,257.2 117.2,255.3 118.5,253.1 118.9,254.3 120.5,258.2 120.7,259.2 122.1,266.2 122.5,268.1 123.7,274.3 124.3,274.5 126.0,275.3 126.2,275.3 127.8,278.8 128.6,280.4 129.6,283.4 131.2,288.5 131.3,288.0 133.1,281.8 133.2,281.4 134.9,279.7 135.2,279.4 136.6,273.0 137.3,270.3 138.4,268.5 139.3,267.3 140.2,265.0 141.7,261.2 142.0,262.0 143.3,266.2 143.7,267.9 145.3,274.3 145.5,275.1 146.9,282.4 147.3,283.1 149.0,286.7 149.4,287.4 150.8,294.0 151.8,298.6 152.6,298.0 154.3,296.9 154.8,296.5 156.1,295.8 157.9,294.8 158.5,294.5 159.7,295.0 160.9,295.5 161.4,297.7 162.9,303.6 163.2,304.2 164.5,306.6 165.0,306.0 166.7,303.7 167.5,302.6 168.5,302.3 170.3,301.7 170.6,301.6 172.0,302.8 173.0,303.6 173.8,303.0 175.6,301.6 175.6,301.6 177.4,305.9 177.6,306.6 179.1,311.1 179.7,312.7 180.9,311.4 181.7,310.7 182.7,314.6 183.7,318.7 184.4,319.9 185.7,321.8 186.2,321.6 188.0,321.0 188.7,320.8 189.7,320.8 191.5,320.8 191.8,320.8 193.3,320.3 194.8,319.8 195.1,319.0 196.8,313.8 197.2,312.7 198.6,309.5 199.8,306.6 200.4,307.0 202.1,308.2 202.9,308.6 203.9,309.1 205.3,309.7 205.7,309.1 207.3,306.6 207.4,307.3 209.2,316.1 209.3,316.7 211.0,312.7 211.0,312.6 212.8,307.4 213.4,305.6 214.5,307.9 215.4,309.7 216.3,313.4 216.6,314.7 218.1,310.4 219.0,307.6 219.8,312.9 221.0,320.8 221.4,331.9 221.6,330.6 223.1,318.7 223.4,317.4 224.7,311.7 225.1,313.8 226.7,320.8 226.9,320.9 228.1,321.8 228.7,320.6 230.1,317.7 230.5,316.5 231.7,311.7 232.2,313.3 233.6,317.7 234.0,318.4 235.6,320.8 235.8,320.9 237.5,322.5 237.8,322.8 238.7,324.4 239.3,331.2 239.9,337.5 240.8,353.5 241.1,353.5 242.3,353.5 242.8,352.8 244.6,350.6 244.6,350.6 246.4,349.7 247.0,349.4 248.2,347.1 248.8,345.8 249.9,344.3 250.6,343.4 251.7,341.9 252.4,341.1 253.5,336.6 254.1,333.9 255.2,331.7 255.9,330.4 257.0,323.8 257.1,323.3 258.8,314.3 258.9,313.8 260.5,312.6 260.7,312.6 262.3,313.1 262.4,313.2 264.1,312.7 264.8,312.6 265.9,311.3 267.2,309.6 267.6,308.9 269.0,306.6 269.4,305.5 270.8,301.9 271.2,299.5 271.9,294.8 272.9,284.6 273.4,280.3 274.5,275.2 274.7,275.3 276.2,276.1 276.5,276.9 277.9,281.9 278.2,283.0 279.6,287.0 280.0,286.3 281.3,284.5 281.8,281.0 282.9,273.5 283.6,272.3 284.6,270.2 285.3,269.9 287.1,269.3 287.1,269.3 288.9,268.8 289.7,268.5 290.6,267.8 292.2,266.8 292.4,266.7 294.2,266.1 294.7,266.0 295.9,264.7 297.2,263.4 297.7,263.1 299.5,261.9 299.7,261.8 301.3,261.3 302.3,260.9 303.0,260.2 304.8,258.4 304.8,258.4 306.1,246.8 306.6,244.9 307.5,240.8 308.3,243.9 309.6,248.8 310.1,246.7 311.6,240.8 311.9,240.1 313.0,237.7 313.6,239.4 315.0,242.8 315.4,241.6 317.0,236.7 317.2,236.3 318.6,232.7 319.0,233.6 320.3,237.7 320.7,237.3 322.3,235.7 322.5,235.8 324.3,236.7 324.3,236.7 325.7,228.6 326.0,226.2 326.3,224.1 327.5,218.2 327.8,219.1 328.7,221.8 329.6,227.0 329.9,228.9 331.3,229.8 331.7,230.0 332.9,222.9 333.1,221.6 334.0,217.0 334.9,220.4 335.2,221.8 336.7,225.6 337.0,226.5 338.4,220.8 338.8,219.4 340.0,215.8 340.2,216.9 341.2,221.8 342.0,224.4 342.9,227.7 343.7,225.6 344.7,222.9 345.5,220.9 346.5,218.2 347.3,216.7 348.3,214.6 349.0,216.6 350.1,219.4 350.8,220.9 351.3,221.8 352.6,219.1 353.0,218.2 354.4,216.4 354.8,215.8 356.0,209.9 356.1,209.3 357.8,200.4 357.9,199.8 359.6,190.9 359.7,191.2 360.8,195.6 361.4,200.3 361.9,203.9 363.2,209.8 363.7,212.3 365.0,213.1 365.5,213.4 366.7,211.8 367.3,211.1 368.5,208.6 369.1,207.5 370.3,205.9 370.9,205.1 372.0,207.5 372.1,207.5 373.8,199.2 373.8,199.2 375.0,195.6 375.6,196.8 376.8,199.2 377.4,200.3 378.6,202.8 379.1,202.3 380.0,201.6 380.7,196.8 380.9,196.6 381.9,195.6 382.7,196.6 384.4,198.7 384.8,199.2 386.2,202.5 387.8,206.3 388.0,205.9 389.6,201.6 389.8,200.9 391.4,194.4 391.5,194.8 393.3,199.2 393.8,200.4 395.1,199.5 395.5,199.2 396.8,196.1 398.5,192.1 398.6,191.9 400.4,189.3 400.9,188.5 402.1,189.1 403.3,189.7 403.9,191.3 405.6,195.6 405.7,195.7 407.5,198.4 408.0,199.2 409.2,199.6 411.0,200.2 411.6,200.4 412.8,198.6 413.9,196.8 414.5,192.7 415.1,188.5 416.3,192.4 416.9,194.4 418.1,195.6 418.1,195.6 419.8,191.0 419.9,190.9 421.6,190.0 422.3,189.7 423.4,188.6 424.0,187.9 425.2,186.4 425.8,185.5 426.9,186.9 428.2,188.5 428.7,188.8 430.5,189.6 430.6,189.7 432.2,193.0 432.9,194.4 434.0,196.2 435.8,199.2 436.5,200.4 437.5,201.8 439.3,204.1 440.1,205.1 441.1,206.3 442.9,208.4 443.6,209.3 444.6,209.8 446.4,210.7 447.2,211.1 448.2,209.6 449.6,207.5 449.9,207.5 451.7,207.5 453.1,207.5 453.5,207.5 455.2,207.5 457.0,207.5 457.9,207.5 458.8,208.0 460.3,208.7 460.6,208.9 462.3,210.1 463.8,211.1 464.1,211.1 465.9,211.4 467.4,211.7 467.6,211.7 469.4,212.1 470.0,212.3 470.7,213.5 471.2,214.5 472.7,217.5 472.9,217.8 474.7,219.6 474.7,219.6 476.5,220.7 477.7,221.6 478.3,221.6 480.0,221.6 480.8,221.6 481.8,222.3 483.6,223.4 483.8,223.6 485.3,225.1 485.8,225.6 487.1,227.6 487.8,228.6 488.9,230.2 489.8,231.7 490.6,232.9 491.9,234.7 492.4,235.5 493.9,237.7 494.2,237.8 496.0,238.4 496.9,238.7 497.7,239.3 499.5,240.5 499.9,240.8 501.3,241.2 503.0,241.8 503.0,241.8 504.8,242.4 506.0,242.8 506.6,243.2 508.3,244.3 509.0,244.8 510.1,245.5 511.9,246.7 512.1,246.8 513.7,247.9 515.1,248.8 515.4,249.2 517.1,250.9 517.2,251.0 519.0,253.6 519.1,253.9 520.7,255.5 521.1,255.9 522.5,254.5 523.2,253.9 524.3,255.6 525.2,256.9 526.0,258.2 527.2,259.9 527.8,259.9 529.2,259.9 529.6,259.6 531.2,257.9 531.4,257.9 533.1,257.9 534.3,257.9 534.9,257.7 536.7,257.1 537.3,256.9 538.4,258.1 539.3,258.9 540.2,258.5 541.3,257.9 542.0,257.7 543.7,257.1 544.4,256.9 545.5,256.3 546.4,255.9 547.3,256.8 548.4,257.9 549.1,257.6 550.4,256.9 550.8,256.6 552.6,255.5 553.4,254.9 554.4,254.6 556.1,254.0 556.5,253.9 557.9,253.4 559.5,252.9 559.7,252.8 561.4,251.9 561.5,251.9 563.2,252.7 563.5,252.9 565.0,253.6 565.6,253.9 566.8,252.7 567.6,251.9 568.5,251.9 570.0,251.9 570.3,252.0 571.0,252.2 572.1,251.7 573.1,251.2 573.8,252.5 575.5,255.2 575.6,254.7 577.1,248.2 577.4,248.0 579.1,247.2 579.1,247.1 580.9,244.5 581.1,244.1 582.7,242.6 583.2,242.1 584.5,244.7 585.2,246.2 586.2,248.2 587.2,250.2 588.0,250.2 589.2,250.2 589.8,249.9 591.2,249.2 591.5,249.0 593.3,248.2 593.3,248.2 595.1,247.4 595.7,247.2 596.8,244.8 597.7,243.1 598.6,247.1 599.3,250.2 600.4,253.3 600.7,254.2 602.2,250.7 602.3,250.2 603.9,245.4 604.4,244.1 605.7,242.8 606.4,242.1 607.5,242.8 608.0,243.1 609.2,247.3 609.8,249.2 611.0,249.2 611.8,249.2 612.8,250.1 613.8,251.2 614.5,252.6 615.9,255.2 616.3,255.9 617.9,258.3 618.1,258.6 619.5,261.3 619.9,261.6 620.5,262.3" fill="none" stroke="none" marker-start="url(#mr)" marker-mid="url(#mr)" marker-end="url(#mr)"/>
<path d="M113.6,255.1 L116.1,257.2 L118.5,253.1 L120.5,258.2 L122.1,266.2 L123.7,274.3 L126.2,275.3 L128.6,280.4 L131.2,288.5 L133.2,281.4 L135.2,279.4 L137.3,270.3 L139.3,267.3 L141.7,261.2 L143.3,266.2 L145.3,274.3 L146.9,282.4 L149.4,287.4 L151.8,298.6 L154.8,296.5 L158.5,294.5 L160.9,295.5 L162.9,303.6 L164.5,306.6 L167.5,302.6 L170.6,301.6 L173.0,303.6 L175.6,301.6 L177.6,306.6 L179.7,312.7 L181.7,310.7 L183.7,318.7 L185.7,321.8 L188.7,320.8 L191.8,320.8 L194.8,319.8 L197.2,312.7 L199.8,306.6 L202.9,308.6 L205.3,309.7 L207.3,306.6 L209.3,316.7 L211.0,312.7 L213.4,305.6 L215.4,309.7 L216.6,314.7 L219.0,307.6 L221.0,320.8 L221.4,331.9 L223.1,318.7 L224.7,311.7 L226.7,320.8 L228.1,321.8 L230.1,317.7 L231.7,311.7 L233.6,317.7 L235.6,320.8 L237.8,322.8 L238.7,324.4 L239.9,337.5 L240.8,353.5 L242.3,353.5 L244.6,350.6 L247.0,349.4 L248.8,345.8 L250.6,343.4 L252.4,341.1 L254.1,333.9 L255.9,330.4 L257.1,323.3 L258.9,313.8 L260.7,312.6 L262.4,313.2 L264.8,312.6 L267.2,309.6 L269.0,306.6 L270.8,301.9 L271.9,294.8 L273.4,280.3 L274.5,275.2 L276.2,276.1 L277.9,281.9 L279.6,287.0 L281.3,284.5 L282.9,273.5 L284.6,270.2 L287.1,269.3 L289.7,268.5 L292.2,266.8 L294.7,266.0 L297.2,263.4 L299.7,261.8 L302.3,260.9 L304.8,258.4 L306.1,246.8 L307.5,240.8 L309.6,248.8 L311.6,240.8 L313.0,237.7 L315.0,242.8 L317.0,236.7 L318.6,232.7 L320.3,237.7 L322.3,235.7 L324.3,236.7 L325.7,228.6 L326.3,224.1 L327.5,218.2 L328.7,221.8 L329.9,228.9 L331.7,230.0 L332.9,222.9 L334.0,217.0 L335.2,221.8 L337.0,226.5 L338.8,219.4 L340.0,215.8 L341.2,221.8 L342.9,227.7 L344.7,222.9 L346.5,218.2 L348.3,214.6 L350.1,219.4 L351.3,221.8 L353.0,218.2 L354.8,215.8 L356.0,209.9 L357.8,200.4 L359.6,190.9 L360.8,195.6 L361.9,203.9 L363.7,212.3 L365.5,213.4 L367.3,211.1 L369.1,207.5 L370.9,205.1 L372.0,207.5 L373.8,199.2 L375.0,195.6 L376.8,199.2 L378.6,202.8 L380.0,201.6 L380.7,196.8 L381.9,195.6 L384.8,199.2 L387.8,206.3 L389.6,201.6 L391.4,194.4 L393.8,200.4 L395.5,199.2 L398.5,192.1 L400.9,188.5 L403.3,189.7 L405.6,195.6 L408.0,199.2 L411.6,200.4 L413.9,196.8 L415.1,188.5 L416.9,194.4 L418.1,195.6 L419.9,190.9 L422.3,189.7 L424.0,187.9 L425.8,185.5 L428.2,188.5 L430.6,189.7 L432.9,194.4 L436.5,200.4 L440.1,205.1 L443.6,209.3 L447.2,211.1 L449.6,207.5 L453.1,207.5 L457.9,207.5 L460.3,208.7 L463.8,211.1 L467.4,211.7 L470.0,212.3 L470.7,213.5 L472.7,217.5 L474.7,219.6 L477.7,221.6 L480.8,221.6 L483.8,223.6 L485.8,225.6 L487.8,228.6 L489.8,231.7 L491.9,234.7 L493.9,237.7 L496.9,238.7 L499.9,240.8 L503.0,241.8 L506.0,242.8 L509.0,244.8 L512.1,246.8 L515.1,248.8 L517.1,250.9 L519.1,253.9 L521.1,255.9 L523.2,253.9 L525.2,256.9 L527.2,259.9 L529.2,259.9 L531.2,257.9 L534.3,257.9 L537.3,256.9 L539.3,258.9 L541.3,257.9 L544.4,256.9 L546.4,255.9 L548.4,257.9 L550.4,256.9 L553.4,254.9 L556.5,253.9 L559.5,252.9 L561.5,251.9 L563.5,252.9 L565.6,253.9 L567.6,251.9 L570.0,251.9 L571.0,252.2 L573.1,251.2 L575.5,255.2 L577.1,248.2 L579.1,247.2 L581.1,244.1 L583.2,242.1 L585.2,246.2 L587.2,250.2 L589.2,250.2 L591.2,249.2 L593.3,248.2 L595.7,247.2 L597.7,243.1 L599.3,250.2 L600.7,254.2 L602.3,250.2 L604.4,244.1 L606.4,242.1 L608.0,243.1 L609.8,249.2 L611.8,249.2 L613.8,251.2 L615.9,255.2 L617.9,258.3 L619.5,261.3 L620.5,262.3" fill="none" stroke="#ff6a6a" stroke-width="3.2" stroke-linejoin="round" stroke-linecap="round"/>
<path d="M113.6,367.3 L115.7,365.2 L117.1,362.2 L118.5,369.3 L121.1,375.3 L123.1,379.4 L125.1,381.4 L127.2,379.4 L128.6,385.4 L130.2,387.4 L132.2,390.5 L134.2,394.5 L136.2,396.5 L138.3,400.6 L140.3,397.5 L142.3,393.5 L144.3,392.5 L146.7,389.5 L148.4,393.5 L150.4,395.5 L152.4,398.6 L154.0,407.6 L155.4,400.6 L157.4,394.5 L159.5,402.6 L161.1,413.7 L162.9,406.6 L164.5,398.6 L165.9,394.5 L167.5,403.6 L168.6,407.6 L170.6,404.6 L173.0,405.6 L175.0,408.6 L177.0,413.7 L179.0,410.7 L181.1,416.7 L183.1,413.7 L185.1,412.7 L186.7,417.7 L188.7,421.8 L190.8,420.8 L192.8,427.8 L194.8,424.8 L197.2,423.8 L198.8,419.8 L200.9,429.8 L202.9,425.8 L204.9,423.8 L206.9,421.8 L208.3,430.9 L209.9,426.8 L212.0,427.8 L214.0,432.9 L216.0,425.8 L218.0,430.9 L220.0,434.9 L222.1,438.9 L223.5,442.0 L225.5,438.9 L227.5,434.9 L229.5,436.9 L231.5,438.9 L233.6,434.9 L235.2,438.9 L237.2,437.9 L239.2,433.9 L241.2,441.0 L243.3,445.0 L244.9,454.1 L246.3,443.0 L247.7,430.9 L249.7,428.8 L251.7,422.8 L253.8,410.7 L255.4,400.6 L257.4,390.5 L259.4,376.3 L261.4,360.2 L262.3,349.8 L263.6,335.7 L265.3,323.9 L267.0,315.5 L268.7,305.5 L270.3,285.3 L272.9,275.2 L275.4,270.2 L277.9,266.8 L279.6,260.1 L281.3,253.4 L281.3,250.9 L283.3,242.8 L284.7,241.8 L286.3,250.9 L288.4,252.9 L290.4,253.9 L292.4,249.8 L294.4,248.8 L296.8,240.8 L299.1,230.7 L300.8,225.3 L302.0,227.7 L303.8,226.5 L305.5,219.4 L307.3,212.3 L308.5,221.8 L309.7,228.9 L311.1,221.8 L312.7,215.8 L314.4,217.0 L315.6,215.8 L317.8,212.9 L319.2,219.4 L321.0,212.9 L322.8,220.6 L324.5,218.2 L326.3,214.6 L327.5,207.5 L328.7,198.0 L330.5,205.1 L332.3,198.0 L334.0,195.6 L335.2,203.9 L336.8,208.7 L338.2,199.2 L340.0,192.1 L341.2,184.9 L342.4,199.2 L343.5,203.9 L344.7,195.6 L346.5,188.5 L348.3,183.8 L349.5,190.9 L351.3,201.6 L353.0,193.3 L354.8,181.4 L356.0,173.1 L357.8,180.2 L359.3,173.1 L360.8,170.7 L361.9,168.3 L363.1,177.8 L364.9,194.4 L366.7,189.7 L368.5,190.9 L370.3,181.4 L372.0,176.6 L373.8,177.8 L375.0,173.1 L376.8,180.2 L378.6,182.6 L380.0,185.5 L380.7,179.0 L381.9,177.2 L383.7,180.2 L385.4,189.7 L387.2,194.4 L389.0,183.8 L390.8,173.1 L392.0,175.4 L393.8,180.2 L395.5,184.9 L398.5,183.8 L402.1,184.9 L405.6,189.7 L408.0,194.4 L410.4,201.6 L412.2,209.9 L413.9,215.8 L415.7,207.5 L417.5,202.8 L419.3,206.3 L420.5,195.6 L421.7,181.4 L423.4,175.4 L425.2,171.9 L427.0,174.8 L428.8,181.4 L430.0,189.7 L431.2,198.0 L434.1,201.0 L436.5,204.5 L438.9,208.7 L441.3,213.4 L443.6,217.0 L446.0,217.0 L448.4,215.2 L450.8,219.4 L452.5,227.7 L454.3,222.9 L456.1,226.5 L457.9,230.0 L458.6,236.7 L460.0,240.8 L461.2,250.9 L462.2,258.9 L463.6,263.0 L465.0,259.9 L466.2,267.0 L468.2,271.0 L470.3,276.1 L471.5,281.5 L472.7,266.3 L474.1,252.2 L475.7,245.1 L477.8,246.2 L479.6,250.2 L481.6,251.2 L483.2,248.2 L484.6,245.1 L485.8,262.3 L486.9,275.4 L488.3,266.3 L490.3,254.2 L491.9,251.2 L493.3,255.2 L494.7,262.3 L496.3,256.2 L498.4,262.3 L500.4,268.4 L502.4,272.4 L504.4,275.4 L506.4,284.5 L508.5,294.6 L510.1,304.7 L511.5,296.6 L512.9,294.6 L514.9,300.7 L516.9,307.7 L519.0,308.7 L520.6,300.7 L522.2,308.7 L523.6,314.8 L525.6,314.8 L527.6,316.8 L529.7,320.9 L531.7,321.9 L533.7,323.9 L536.3,324.9 L538.7,332.0 L540.8,326.9 L542.8,322.9 L544.8,328.9 L547.2,329.9 L549.8,326.9 L551.9,326.9 L553.9,328.9 L555.9,329.9 L557.9,327.9 L559.9,329.9 L562.0,328.9 L564.0,327.9 L566.0,334.0 L568.0,333.0 L570.0,332.0 L572.1,328.9 L574.1,333.0 L576.1,336.0 L578.1,338.0 L580.1,333.0 L582.1,329.9 L584.2,332.0 L586.2,334.0 L588.2,336.0 L589.2,340.0 L591.2,335.0 L593.3,337.0 L595.3,331.0 L597.3,328.9 L599.3,331.0 L601.3,329.9 L603.3,335.0 L605.4,328.9 L607.4,326.9 L609.0,323.9 L610.4,331.0 L612.4,328.9 L614.0,324.9 L615.5,328.9 L617.5,331.0" fill="none" stroke="#0000ff" stroke-width="1.3" stroke-linejoin="round" stroke-linecap="butt"/>
<path d="M113.6,288.5 L116.1,287.4 L118.1,288.5 L119.7,296.5 L121.1,308.6 L123.1,317.7 L125.1,321.8 L127.2,313.7 L128.6,320.8 L130.2,324.8 L132.2,321.8 L134.2,322.8 L135.2,334.9 L136.2,344.0 L137.9,328.8 L139.9,310.7 L141.9,298.6 L143.3,302.6 L144.7,308.6 L146.7,310.7 L148.4,324.8 L149.8,333.9 L151.4,324.8 L152.8,317.7 L155.4,312.7 L157.4,307.6 L159.1,303.6 L160.5,309.7 L162.1,314.7 L163.5,326.8 L165.5,324.8 L167.1,321.8 L168.6,328.8 L170.0,345.0 L170.6,350.0 L172.0,334.9 L173.0,326.8 L174.6,334.9 L176.2,339.9 L178.2,341.0 L179.7,352.1 L181.7,358.2 L183.7,355.1 L185.1,349.1 L186.7,348.1 L188.7,353.1 L190.8,350.1 L193.2,350.1 L195.8,351.1 L197.4,346.1 L198.4,333.9 L199.8,354.1 L201.9,367.3 L203.9,360.2 L205.9,368.3 L207.9,376.3 L209.9,366.2 L212.0,360.2 L213.4,374.3 L215.4,387.4 L217.0,378.4 L219.0,369.3 L221.0,373.3 L223.1,378.4 L225.1,388.5 L228.1,392.5 L231.1,393.5 L234.2,398.6 L237.2,401.6 L239.2,405.6 L240.8,398.6 L242.2,386.4 L243.3,379.4 L245.3,380.4 L247.3,377.4 L249.3,374.3 L251.3,377.4 L252.7,373.3 L254.4,360.2 L255.8,352.1 L257.4,348.1 L258.6,337.4 L260.3,325.6 L261.9,317.2 L263.6,310.5 L265.0,308.0 L266.1,310.5 L267.8,307.1 L269.0,300.4 L270.3,290.3 L272.0,281.9 L273.7,273.5 L275.0,267.6 L276.2,266.0 L277.9,270.2 L279.6,275.2 L281.3,271.8 L282.9,266.0 L284.6,263.4 L287.1,264.3 L289.7,263.4 L292.2,261.8 L294.7,259.2 L297.2,256.7 L299.7,254.2 L302.3,252.5 L304.8,250.8 L304.9,240.8 L306.5,233.7 L307.9,229.7 L309.6,236.7 L311.6,232.7 L313.6,230.7 L315.6,227.7 L318.0,226.5 L321.0,225.3 L323.3,226.5 L325.1,224.1 L326.3,220.6 L328.1,218.2 L329.3,221.8 L330.5,227.7 L332.3,224.1 L334.0,219.4 L335.2,215.8 L337.0,211.1 L338.8,209.3 L340.6,208.1 L341.8,213.4 L342.9,217.0 L344.7,207.5 L346.5,200.4 L348.3,199.2 L350.1,206.3 L351.3,212.3 L353.0,207.5 L354.8,201.6 L356.6,194.4 L357.8,188.5 L359.3,186.1 L360.8,187.3 L361.9,194.4 L363.7,202.8 L364.9,207.5 L366.7,207.5 L368.5,201.6 L370.3,196.8 L372.0,192.1 L373.8,185.5 L375.0,183.8 L376.8,188.5 L378.6,194.4 L380.0,195.6 L380.7,190.9 L382.5,192.1 L384.3,195.6 L386.6,198.0 L387.8,201.6 L389.6,193.3 L391.4,187.3 L392.6,186.1 L394.3,190.9 L396.1,195.6 L397.9,187.3 L399.7,182.6 L401.5,181.4 L403.3,183.8 L405.0,187.3 L406.8,192.1 L408.6,195.6 L411.0,199.2 L412.8,196.8 L413.9,190.9 L415.7,188.5 L417.5,194.4 L418.7,199.2 L419.9,193.3 L421.7,187.3 L423.4,183.8 L425.2,182.0 L427.0,184.9 L428.8,188.5 L430.6,193.3 L432.9,198.0 L436.5,202.8 L440.1,207.5 L443.6,211.1 L447.2,212.3 L449.0,207.5 L450.8,207.5 L453.1,211.1 L456.7,211.1 L459.1,212.3 L461.4,215.2 L463.8,217.0 L467.4,217.0 L470.0,218.2 L470.7,218.6 L472.7,223.6 L474.7,225.6 L477.7,225.6 L480.8,226.6 L483.8,227.6 L485.8,230.7 L487.8,233.7 L489.8,236.7 L492.9,239.8 L495.9,241.8 L498.9,242.8 L502.0,243.8 L505.0,245.8 L508.0,248.8 L511.0,253.9 L514.1,256.9 L517.1,259.9 L519.1,263.0 L521.1,262.0 L523.2,264.0 L525.2,269.0 L527.2,274.1 L530.2,275.1 L533.3,275.1 L535.3,272.1 L537.3,270.0 L539.3,273.1 L541.3,272.1 L543.3,270.0 L545.4,269.0 L547.4,271.0 L549.4,273.1 L551.4,274.1 L553.4,272.1 L555.5,274.1 L557.5,276.1 L559.9,278.5 L562.0,282.5 L564.0,287.5 L566.0,291.6 L568.6,293.6 L570.6,290.6 L572.7,289.6 L574.7,286.5 L576.7,282.5 L578.7,288.6 L580.7,289.6 L582.8,286.5 L585.2,281.5 L587.6,277.4 L589.6,273.4 L591.6,272.4 L593.7,276.4 L595.7,280.5 L598.3,281.5 L599.7,282.5 L601.7,280.5 L604.4,279.5 L606.4,277.4 L608.4,274.4 L610.4,273.4 L612.4,273.4 L614.5,274.4 L616.5,278.5 L617.9,285.5" fill="none" stroke="#00ff00" stroke-width="1.3" stroke-linejoin="round" stroke-linecap="butt"/>
<path d="M113.6,255.1 L116.1,257.2 L118.5,253.1 L120.5,258.2 L122.1,266.2 L123.7,274.3 L126.2,275.3 L128.6,280.4 L131.2,288.5 L133.2,281.4 L135.2,279.4 L137.3,270.3 L139.3,267.3 L141.7,261.2 L143.3,266.2 L145.3,274.3 L146.9,282.4 L149.4,287.4 L151.8,298.6 L154.8,296.5 L158.5,294.5 L160.9,295.5 L162.9,303.6 L164.5,306.6 L167.5,302.6 L170.6,301.6 L173.0,303.6 L175.6,301.6 L177.6,306.6 L179.7,312.7 L181.7,310.7 L183.7,318.7 L185.7,321.8 L188.7,320.8 L191.8,320.8 L194.8,319.8 L197.2,312.7 L199.8,306.6 L202.9,308.6 L205.3,309.7 L207.3,306.6 L209.3,316.7 L211.0,312.7 L213.4,305.6 L215.4,309.7 L216.6,314.7 L219.0,307.6 L221.0,320.8 L221.4,331.9 L223.1,318.7 L224.7,311.7 L226.7,320.8 L228.1,321.8 L230.1,317.7 L231.7,311.7 L233.6,317.7 L235.6,320.8 L237.8,322.8 L238.7,324.4 L239.9,337.5 L240.8,353.5 L242.3,353.5 L244.6,350.6 L247.0,349.4 L248.8,345.8 L250.6,343.4 L252.4,341.1 L254.1,333.9 L255.9,330.4 L257.1,323.3 L258.9,313.8 L260.7,312.6 L262.4,313.2 L264.8,312.6 L267.2,309.6 L269.0,306.6 L270.8,301.9 L271.9,294.8 L273.4,280.3 L274.5,275.2 L276.2,276.1 L277.9,281.9 L279.6,287.0 L281.3,284.5 L282.9,273.5 L284.6,270.2 L287.1,269.3 L289.7,268.5 L292.2,266.8 L294.7,266.0 L297.2,263.4 L299.7,261.8 L302.3,260.9 L304.8,258.4 L306.1,246.8 L307.5,240.8 L309.6,248.8 L311.6,240.8 L313.0,237.7 L315.0,242.8 L317.0,236.7 L318.6,232.7 L320.3,237.7 L322.3,235.7 L324.3,236.7 L325.7,228.6 L326.3,224.1 L327.5,218.2 L328.7,221.8 L329.9,228.9 L331.7,230.0 L332.9,222.9 L334.0,217.0 L335.2,221.8 L337.0,226.5 L338.8,219.4 L340.0,215.8 L341.2,221.8 L342.9,227.7 L344.7,222.9 L346.5,218.2 L348.3,214.6 L350.1,219.4 L351.3,221.8 L353.0,218.2 L354.8,215.8 L356.0,209.9 L357.8,200.4 L359.6,190.9 L360.8,195.6 L361.9,203.9 L363.7,212.3 L365.5,213.4 L367.3,211.1 L369.1,207.5 L370.9,205.1 L372.0,207.5 L373.8,199.2 L375.0,195.6 L376.8,199.2 L378.6,202.8 L380.0,201.6 L380.7,196.8 L381.9,195.6 L384.8,199.2 L387.8,206.3 L389.6,201.6 L391.4,194.4 L393.8,200.4 L395.5,199.2 L398.5,192.1 L400.9,188.5 L403.3,189.7 L405.6,195.6 L408.0,199.2 L411.6,200.4 L413.9,196.8 L415.1,188.5 L416.9,194.4 L418.1,195.6 L419.9,190.9 L422.3,189.7 L424.0,187.9 L425.8,185.5 L428.2,188.5 L430.6,189.7 L432.9,194.4 L436.5,200.4 L440.1,205.1 L443.6,209.3 L447.2,211.1 L449.6,207.5 L453.1,207.5 L457.9,207.5 L460.3,208.7 L463.8,211.1 L467.4,211.7 L470.0,212.3 L470.7,213.5 L472.7,217.5 L474.7,219.6 L477.7,221.6 L480.8,221.6 L483.8,223.6 L485.8,225.6 L487.8,228.6 L489.8,231.7 L491.9,234.7 L493.9,237.7 L496.9,238.7 L499.9,240.8 L503.0,241.8 L506.0,242.8 L509.0,244.8 L512.1,246.8 L515.1,248.8 L517.1,250.9 L519.1,253.9 L521.1,255.9 L523.2,253.9 L525.2,256.9 L527.2,259.9 L529.2,259.9 L531.2,257.9 L534.3,257.9 L537.3,256.9 L539.3,258.9 L541.3,257.9 L544.4,256.9 L546.4,255.9 L548.4,257.9 L550.4,256.9 L553.4,254.9 L556.5,253.9 L559.5,252.9 L561.5,251.9 L563.5,252.9 L565.6,253.9 L567.6,251.9 L570.0,251.9 L571.0,252.2 L573.1,251.2 L575.5,255.2 L577.1,248.2 L579.1,247.2 L581.1,244.1 L583.2,242.1 L585.2,246.2 L587.2,250.2 L589.2,250.2 L591.2,249.2 L593.3,248.2 L595.7,247.2 L597.7,243.1 L599.3,250.2 L600.7,254.2 L602.3,250.2 L604.4,244.1 L606.4,242.1 L608.0,243.1 L609.8,249.2 L611.8,249.2 L613.8,251.2 L615.9,255.2 L617.9,258.3" fill="none" stroke="#ff0000" stroke-width="1.3" stroke-linejoin="round" stroke-linecap="butt"/>
</g>
<text x="103.5" y="92.0" font-size="20.2" text-anchor="end">25</text>
<text x="103.2" y="191.0" font-size="20.2" text-anchor="end">20</text>
<text x="104.4" y="290.0" font-size="20.2" text-anchor="end" textLength="19.0" lengthAdjust="spacing">15</text>
<text x="104.4" y="389.0" font-size="20.2" text-anchor="end">10</text>
<text x="104.0" y="488.4" font-size="20.2" text-anchor="end">5</text>
<text x="91.0" y="506.8" font-size="20.2" textLength="46" lengthAdjust="spacing">00:00</text>
<text x="218.7" y="506.8" font-size="20.2" textLength="46" lengthAdjust="spacing">06:00</text>
<text x="347.4" y="506.8" font-size="20.2" textLength="46" lengthAdjust="spacing">12:00</text>
<text x="475.5" y="506.8" font-size="20.2" textLength="46" lengthAdjust="spacing">18:00</text>
<text x="341.2" y="526.6" font-size="20" textLength="55.6" lengthAdjust="spacing">Oct-12</text>
<text x="340.8" y="550.4" font-size="23.5" textLength="58.6" lengthAdjust="spacing">(LST)</text>
<g class="lg"><rect x="638" y="396.5" width="184" height="84.9" fill="#fff" stroke="#000" stroke-width="1.4" stroke-linejoin="round"/>
<line x1="643" x2="655.2" y1="410.9" y2="410.9" stroke="#ff0000" stroke-width="1.15"/>
<circle cx="649.1" cy="410.9" r="1.3" fill="#ff8a8a"/>
<text x="659.4" y="415.7" textLength="68.6" lengthAdjust="spacing">at 29.5 m</text>
<line x1="643" x2="655.2" y1="439.1" y2="439.1" stroke="#00ff00" stroke-width="1.15"/>
<circle cx="649.1" cy="439.1" r="1.3" fill="#8aff8a"/>
<text x="659.4" y="444.7" textLength="68.6" lengthAdjust="spacing">at 12.3 m</text>
<line x1="643" x2="655.2" y1="467.3" y2="467.3" stroke="#0000ff" stroke-width="1.15"/>
<circle cx="649.1" cy="467.3" r="1.3" fill="#8a8aff"/>
<text x="659.4" y="472.6" textLength="59.6" lengthAdjust="spacing">at 1.6 m</text>
</g>
<g class="ft">
<text x="660.6" y="532.8" font-size="12" textLength="118" lengthAdjust="spacing" style="font-size:12px">©TERC, Univ. Tsukuba</text>
<text x="655" y="549.9" textLength="167.6" lengthAdjust="spacing">Observed at TERC Tower site</text>
<text x="561.5" y="566.4" textLength="261" lengthAdjust="spacing">Created Automatically at 2008-10-12/23:56:19</text>
<text x="437" y="583.4" textLength="385" lengthAdjust="spacing">Data source : /home/hojyo/new/TERC-data/sorted_data/MET.10s.dat</text>
</g>
<g transform="translate(785,504)">
<rect x="0" y="-0.2" width="34.2" height="34.2" fill="#0a64ff"/>
<path d="M10.4,-1 L10.4,-0.2 C10.8,3 12,6 14.6,6.9 L20,6.9 C22.6,6 23.4,3 23.4,-0.2 L23.4,-1 Z" fill="#fff"/>
<path d="M17,7.8 C17.5,10.5 20.1,12.5 20.1,15 C20.1,17 18.7,18.3 17,18.3 C15.3,18.3 13.9,17 13.9,15 C13.9,12.5 16.5,10.5 17,7.8 Z" fill="#fff"/>
<path d="M0,11 C5,19 10,21.5 17,21.5 C24,21.5 29,19 34.2,11" fill="none" stroke="#fff" stroke-width="1.2"/>
<path d="M0,16 C5,22 10,24.3 17,24.3 C24,24.3 29,22 34.2,16" fill="none" stroke="#fff" stroke-width="1.2"/>
<path d="M0,20.3 C5,23 8,24.5 11,24.3 M34.2,20.3 C29,23 26,24.5 23,24.3" fill="none" stroke="#fff" stroke-width="1.1"/>
<g class="lgo"><text x="1.5" y="33.3" style="fill:#fff">T</text><text x="9.9" y="33.3" style="fill:#fff">E</text><text x="18.7" y="33.3" style="fill:#fff">R</text><text x="27.4" y="33.3" style="fill:#fff">C</text></g>
</g>
</svg></body></html>
